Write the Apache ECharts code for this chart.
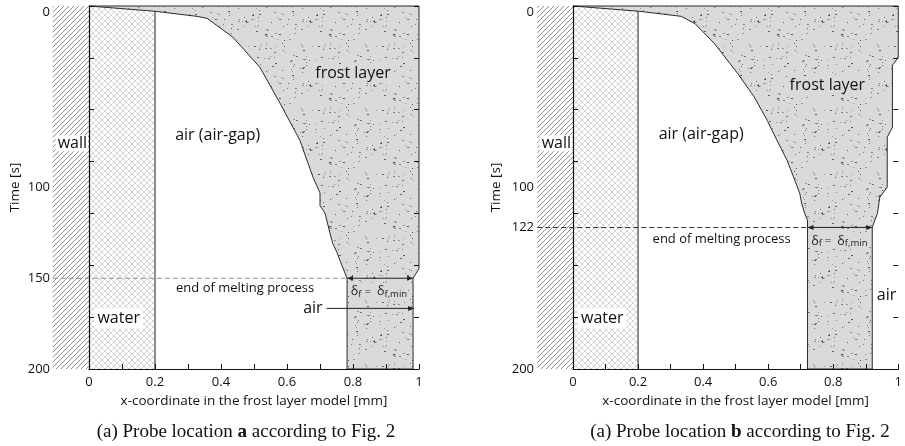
<!DOCTYPE html>
<html>
<head>
<meta charset="utf-8">
<script src="https://cdn.jsdelivr.net/npm/echarts@6/dist/echarts.min.js"></script>
<style>
  html, body { margin: 0; padding: 0; background: #fff; }
  #chart { width: 905px; height: 446px; }
</style>
</head>
<body>
<div id="chart"></div>
<script>
// axis ticks / labels
const xTickValues = [0, 0.1, 0.2, 0.3, 0.4, 0.5, 0.6, 0.7, 0.8, 0.9, 1]
const xLabelValues = [0, 0.2, 0.4, 0.6, 0.8, 1]
const timeTickValues = [0, 28.57, 57.14, 85.71, 114.29, 142.86, 171.43, 200]
const timeLabelsA = [0, 100, 150, 200]
const timeLabelsB = [0, 100, 122, 200]

// end of melting process [s]
const meltTimeA = 150
const meltTimeB = 122

// air-gap / frost boundary [x mm, t s]
const frostEdgeA = [[0, 0], [0.2, 2.9], [0.327, 5.7], [0.358, 6.8], [0.436, 17.2], [0.518, 33.8], [0.579, 53.6],
  [0.639, 74], [0.679, 94.4], [0.7, 103], [0.7, 110], [0.715, 114], [0.73, 125], [0.739, 131], [0.752, 136],
  [0.76, 140], [0.782, 150], [0.782, 200]]
// frost / outer air boundary
const frostOuterA = [[1, 0], [1, 144.7], [0.982, 150], [0.982, 200]]

const frostEdgeB = [[0, 0], [0.203, 2.9], [0.333, 5.7], [0.375, 9.7], [0.435, 20.7], [0.506, 37.1], [0.557, 50.1],
  [0.597, 63], [0.627, 74], [0.658, 85], [0.678, 94.2], [0.697, 103.2], [0.703, 108.7], [0.712, 114.2],
  [0.721, 118], [0.721, 122], [0.721, 200]]
const frostOuterB = [[1, 0], [1, 28.3], [0.982, 32.7], [0.982, 66.8], [0.966, 72.3], [0.966, 99.8], [0.943, 105.4],
  [0.936, 114.2], [0.92, 121.9], [0.92, 200]]

const waterX = 0.2
const wallX = -0.11

// textures
function makeCanvas(w, h) {
  const c = document.createElement('canvas')
  c.width = w
  c.height = h
  return c
}
function dotTexture() {
  const c = makeCanvas(64, 64)
  const g = c.getContext('2d')
  g.fillStyle = '#dadada'
  g.fillRect(0, 0, 64, 64)
  let s = 12345
  const rnd = () => (s = (s * 16807) % 2147483647) / 2147483647
  for (let i = 0; i < 105; i++) {
    const v = 85 + Math.floor(rnd() * 70)
    g.fillStyle = 'rgb(' + v + ',' + v + ',' + v + ')'
    g.fillRect(Math.floor(rnd() * 64), Math.floor(rnd() * 64), rnd() > 0.6 ? 2 : 1, 1)
  }
  return c
}
function hatchTexture() {
  const c = makeCanvas(10, 10)
  const g = c.getContext('2d')
  g.fillStyle = '#fff'
  g.fillRect(0, 0, 10, 10)
  g.strokeStyle = '#7a7a7a'
  g.lineWidth = 0.85
  for (let k = -10; k <= 20; k += 5) {
    g.beginPath()
    g.moveTo(k - 10, 10)
    g.lineTo(k + 10, -10)
    g.stroke()
  }
  return c
}
function crossTexture() {
  const c = makeCanvas(6, 6)
  const g = c.getContext('2d')
  g.fillStyle = '#fff'
  g.fillRect(0, 0, 6, 6)
  g.strokeStyle = '#cacaca'
  g.lineWidth = 0.8
  for (let k = -6; k <= 6; k += 6) {
    g.beginPath(); g.moveTo(k, 6); g.lineTo(k + 6, 0); g.stroke()
    g.beginPath(); g.moveTo(k, 0); g.lineTo(k + 6, 6); g.stroke()
  }
  return c
}
const frostFill = { image: dotTexture(), repeat: 'repeat' }
const wallFill = { image: hatchTexture(), repeat: 'repeat' }
const waterFill = { image: crossTexture(), repeat: 'repeat' }

const FONT = '"Open Sans", "DejaVu Sans", sans-serif'
const SERIF = '"Liberation Serif", "Times New Roman", serif'

function arrowHead(tip, dir) {
  return {
    type: 'polygon',
    shape: { points: [tip, [tip[0] - dir * 6, tip[1] - 2.5], [tip[0] - dir * 6, tip[1] + 2.5]] },
    style: { fill: '#222' }
  }
}

function txt(p, text, opts) {
  return {
    type: 'text', x: p[0], y: p[1],
    style: Object.assign({
      text: text, fill: '#111', fontFamily: FONT, fontSize: 16,
      align: 'center', verticalAlign: 'middle'
    }, opts || {})
  }
}

function panelSeries(gi, edge, outer, meltT, dashColor, marks) {
  return {
    type: 'custom',
    coordinateSystem: 'cartesian2d',
    xAxisIndex: gi,
    yAxisIndex: gi * 2,
    clip: false,
    silent: true,
    z: 1,
    data: [[0, 0]],
    renderItem: (params, api) => {
      const P = (x, t) => api.coord([x, t])
      const children = []
      const w0 = P(wallX, 0), w1 = P(0, 200)
      children.push({ type: 'rect', shape: { x: w0[0], y: w0[1], width: w1[0] - w0[0], height: w1[1] - w0[1] }, style: { fill: wallFill } })
      const a0 = P(0, 0), a1 = P(waterX, 200)
      children.push({ type: 'rect', shape: { x: a0[0], y: a0[1], width: a1[0] - a0[0], height: a1[1] - a0[1] }, style: { fill: waterFill } })
      children.push({ type: 'line', shape: { x1: a1[0], y1: a0[1], x2: a1[0], y2: a1[1] }, style: { stroke: '#222', lineWidth: 1 } })

      const pts = edge.map(p => P(p[0], p[1])).concat(outer.slice().reverse().map(p => P(p[0], p[1])))
      children.push({ type: 'polygon', shape: { points: pts }, style: { fill: frostFill, stroke: '#2a2a2a', lineWidth: 1 } })

      const xl = edge[edge.length - 1][0], xr = outer[outer.length - 1][0]
      const d0 = P(wallX, meltT), d1 = P(xl, meltT), d2 = P(xr, meltT)
      children.push({ type: 'line', shape: { x1: d0[0], y1: d0[1], x2: d1[0], y2: d1[1] }, style: { stroke: dashColor, lineWidth: 1.1, lineDash: [5, 3] } })
      children.push({ type: 'line', shape: { x1: d1[0], y1: d1[1], x2: d2[0], y2: d2[1] }, style: { stroke: '#222', lineWidth: 1 } })
      children.push(arrowHead(d1, -1))
      children.push(arrowHead(d2, 1))

      children.push(txt(P(-0.003, 75.6), 'wall', { align: 'right', backgroundColor: '#fff', padding: [0, 1, 0, 2] }))
      children.push(txt(P(0.09, 172), 'water', { backgroundColor: '#fff', padding: [2, 3] }))
      children.push(txt(P(marks.gap[0], marks.gap[1]), 'air (air-gap)'))
      children.push(txt(P(marks.frost[0], marks.frost[1]), 'frost layer', { backgroundColor: '#dadada', padding: [1, 2] }))
      children.push(txt(P(marks.melt[0], marks.melt[1]), 'end of melting process', { fontSize: 13, backgroundColor: '#fff', padding: [1, 2] }))
      children.push(txt(P(xl + 0.008, meltT + 7.5), '{d|δ}{s|f}{n| =  }{d|δ}{s|f,min}', {
        align: 'left', backgroundColor: '#dadada', padding: [1, 1],
        rich: {
          d: { fontFamily: FONT, fontSize: 12.5, fill: '#222' },
          s: { fontFamily: FONT, fontSize: 9.5, fill: '#222', padding: [4, 0, 0, 0] },
          n: { fontFamily: FONT, fontSize: 11.5, fill: '#222' }
        }
      }))
      if (marks.airArrow) {
        const r0 = P(marks.airArrow[0], marks.airArrow[2]), r1 = P(marks.airArrow[1], marks.airArrow[2])
        children.push(txt([r0[0] - 4, r0[1]], 'air', { align: 'right', fontSize: 16 }))
        children.push({ type: 'line', shape: { x1: r0[0], y1: r0[1], x2: r1[0], y2: r1[1] }, style: { stroke: '#222', lineWidth: 1 } })
        children.push(arrowHead(r1, 1))
      }
      if (marks.air) {
        children.push(txt(P(marks.air[0], marks.air[1]), 'air', { backgroundColor: '#fff', padding: [1, 1] }))
      }
      return { type: 'group', children: children }
    }
  }
}

function xAxisOf(gi) {
  return {
    gridIndex: gi, type: 'value', min: 0, max: 1,
    name: 'x-coordinate in the frost layer model [mm]', nameLocation: 'middle', nameGap: 22,
    nameTextStyle: { fontSize: 13.5, color: '#111', fontFamily: FONT },
    axisLine: { show: true, onZero: false, lineStyle: { color: '#111', width: 1.2 } },
    axisTick: { show: true, inside: true, length: 5, customValues: xTickValues, lineStyle: { color: '#111' } },
    axisLabel: { customValues: xLabelValues, margin: 7, fontSize: 13, color: '#111', fontFamily: FONT, formatter: v => String(v) },
    splitLine: { show: false },
    z: 5
  }
}
function yAxisOf(gi, labels, gap) {
  return {
    gridIndex: gi, type: 'value', min: 0, max: 200, inverse: true, position: 'left',
    name: 'Time [s]', nameLocation: 'middle', nameGap: gap, nameRotate: 90,
    nameTextStyle: { fontSize: 13.5, color: '#111', fontFamily: FONT },
    axisLine: { show: true, onZero: false, lineStyle: { color: '#111', width: 1.2 } },
    axisTick: { show: true, inside: true, length: 5, customValues: timeTickValues, lineStyle: { color: '#111' } },
    axisLabel: { customValues: labels, margin: 39, fontSize: 13, color: '#111', fontFamily: FONT, verticalAlignMinLabel: 'top' },
    splitLine: { show: false },
    z: 5
  }
}
function yRightOf(gi) {
  return {
    gridIndex: gi, type: 'value', min: 0, max: 200, inverse: true, position: 'right',
    axisLine: { show: false, onZero: false },
    axisTick: { show: true, inside: true, length: 5, customValues: timeTickValues, lineStyle: { color: '#111' } },
    axisLabel: { show: false },
    splitLine: { show: false },
    z: 5
  }
}

function caption(cx, letter) {
  return {
    type: 'text', x: cx, y: 432,
    style: {
      text: '(a) Probe location {b|' + letter + '} according to Fig. 2',
      fill: '#111', fontFamily: SERIF, fontSize: 19,
      align: 'center', verticalAlign: 'middle', textAlign: 'center', textVerticalAlign: 'middle',
      rich: { b: { fontWeight: 'bold', fontSize: 19, fontFamily: SERIF, fill: '#111' } }
    }
  }
}

const chart = echarts.init(document.getElementById('chart'), null, { renderer: 'canvas' })
chart.setOption({
  animation: false,
  backgroundColor: '#fff',
  grid: [
    { left: 89, top: 6, width: 330, height: 363 },
    { left: 573, top: 6, width: 331, height: 363 }
  ],
  xAxis: [xAxisOf(0), xAxisOf(1)],
  yAxis: [yAxisOf(0, timeLabelsA, 67), yRightOf(0), yAxisOf(1, timeLabelsB, 70), yRightOf(1)],
  series: [
    panelSeries(0, frostEdgeA, frostOuterA, meltTimeA, '#8c8c8c', {
      gap: [0.39, 71.2], frost: [0.8, 37], melt: [0.473, 155.5], airArrow: [0.72, 0.985, 166.6]
    }),
    panelSeries(1, frostEdgeB, frostOuterB, meltTimeB, '#333', {
      gap: [0.394, 70.7], frost: [0.782, 43.7], melt: [0.457, 128.5], air: [0.964, 159.4]
    })
  ],
  graphic: [caption(246, 'a'), caption(740, 'b')]
})
</script>
</body>
</html>
